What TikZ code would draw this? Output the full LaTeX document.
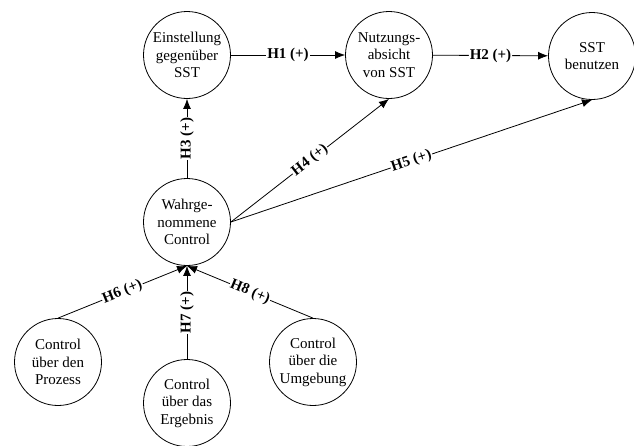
\documentclass[tikz,border=0pt]{standalone}
\usepackage{fontspec}
\setmainfont{Liberation Serif}
\usetikzlibrary{arrows.meta}
\begin{document}
\begin{tikzpicture}[x=1pt,y=-1pt,
  concept/.style={circle,draw,line width=0.8pt,minimum size=87pt,inner sep=0pt,align=center,font=\fontsize{15}{17.5}\selectfont},
  link/.style={line width=0.8pt,-{Latex[length=10pt,width=8pt]}},
  hyp/.style={midway,sloped,fill=white,inner sep=1pt,font=\bfseries\fontsize{15}{17.5}\selectfont},
]
\useasboundingbox (0,0) rectangle (634,445);
\node[concept] (ein) at (187,55) {Einstellung\\gegenüber\\SST};
\node[concept] (nut) at (389,55) {Nutzungs-\\absicht\\von SST};
\node[concept] (sst) at (592,56) {SST\\benutzen};
\node[concept] (wc) at (187,222) {Wahrge-\\nommene\\Control};
\node[concept] (pr) at (58,362) {Control\\über den\\Prozess};
\node[concept] (er) at (187,403) {Control\\über das\\Ergebnis};
\node[concept] (um) at (313,362) {Control\\über die\\Umgebung};
\draw[link] (ein) -- node[hyp] {H1 (+)} (nut);
\draw[link] (nut) -- node[hyp] {H2 (+)} (sst);
\draw[link] (wc) -- node[hyp] {H3 (+)} (ein);
\draw[link] (wc.east) -- node[hyp] {H4 (+)} (nut.south);
\draw[link] (wc.east) -- node[hyp] {H5 (+)} (sst.south);
\draw[link] (pr.north) -- node[hyp] {H6 (+)} (wc.south);
\draw[link] (er.north) -- node[hyp] {H7 (+)} (wc.south);
\draw[link] (um.north) -- node[hyp] {H8 (+)} (wc.south);
\end{tikzpicture}
\end{document}
